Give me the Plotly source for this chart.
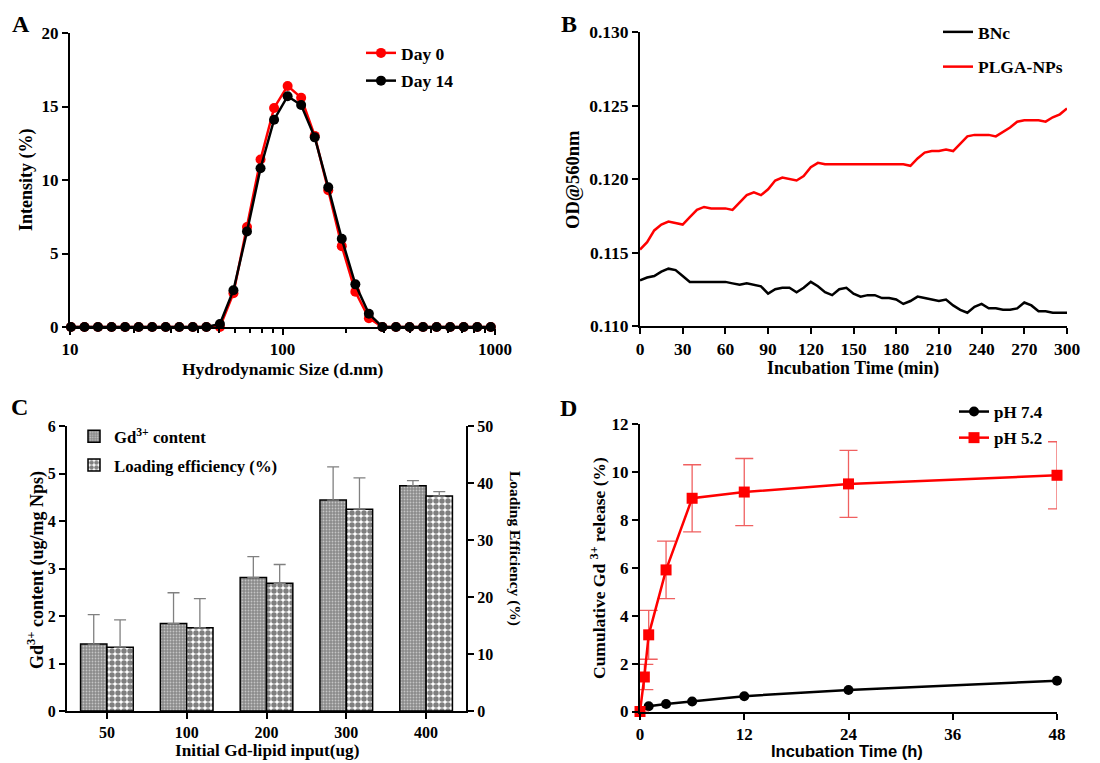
import plotly.graph_objects as go

SERIF = "Liberation Serif"
SANS = "Liberation Sans"
W, H = 1100, 763

def fx(x):
    return x / W

def fy(y):
    return 1 - y / H

# ---------------- Panel A data ----------------
size_nm = [10.10, 11.70, 13.54, 15.69, 18.17, 21.04, 24.36, 28.21, 32.67, 37.84,
           43.82, 50.75, 58.77, 68.06, 78.82, 91.28, 105.7, 122.4, 141.8, 164.2,
           190.1, 220.2, 255.0, 295.3, 342.0, 396.1, 458.7, 531.2, 615.1, 712.4,
           825.0, 955.4]
day0 = [0, 0, 0, 0, 0, 0, 0, 0, 0, 0,
        0, 0.0, 2.3, 6.8, 11.4, 14.9, 16.4, 15.6, 13.0, 9.3,
        5.5, 2.4, 0.6, 0, 0, 0, 0, 0, 0, 0,
        0, 0]
day14 = [0, 0, 0, 0, 0, 0, 0, 0, 0, 0,
         0, 0.2, 2.5, 6.5, 10.8, 14.1, 15.7, 15.1, 12.9, 9.5,
         6.0, 2.9, 0.9, 0, 0, 0, 0, 0, 0, 0,
         0, 0]

# ---------------- Panel B data ----------------
time_min = list(range(0, 301, 5))
plga_nps = [0.1152, 0.1157, 0.1165, 0.1169, 0.1171, 0.1170, 0.1169, 0.1174, 0.1179, 0.1181,
            0.1180, 0.1180, 0.1180, 0.1179, 0.1184, 0.1189, 0.1191, 0.1189, 0.1193, 0.1199,
            0.1201, 0.1200, 0.1199, 0.1202, 0.1208, 0.1211, 0.1210, 0.1210, 0.1210, 0.1210,
            0.1210, 0.1210, 0.1210, 0.1210, 0.1210, 0.1210, 0.1210, 0.1210, 0.1209, 0.1214,
            0.1218, 0.1219, 0.1219, 0.1220, 0.1219, 0.1224, 0.1229, 0.1230, 0.1230, 0.1230,
            0.1229, 0.1232, 0.1235, 0.1239, 0.1240, 0.1240, 0.1240, 0.1239, 0.1242, 0.1244,
            0.1248]
bnc = [0.1131, 0.1133, 0.1134, 0.1137, 0.1139, 0.1138, 0.1134, 0.1130, 0.1130, 0.1130,
       0.1130, 0.1130, 0.1130, 0.1129, 0.1128, 0.1129, 0.1128, 0.1127, 0.1122, 0.1125,
       0.1126, 0.1126, 0.1123, 0.1126, 0.1130, 0.1127, 0.1123, 0.1121, 0.1125, 0.1126,
       0.1122, 0.1120, 0.1121, 0.1121, 0.1119, 0.1119, 0.1118, 0.1115, 0.1117, 0.1120,
       0.1119, 0.1118, 0.1117, 0.1118, 0.1114, 0.1111, 0.1109, 0.1113, 0.1115, 0.1112,
       0.1112, 0.1111, 0.1111, 0.1112, 0.1116, 0.1114, 0.1110, 0.1110, 0.1109, 0.1109,
       0.1109]

# ---------------- Panel C data ----------------
gd_input = ["50", "100", "200", "300", "400"]
gd_content = [1.41, 1.84, 2.81, 4.44, 4.74]
gd_content_err = [0.62, 0.65, 0.44, 0.70, 0.11]
loading_eff = [11.2, 14.6, 22.4, 35.4, 37.7]
loading_eff_err = [4.8, 5.1, 3.3, 5.5, 0.8]

# ---------------- Panel D data ----------------
time_h_74 = [0, 1, 3, 6, 12, 24, 48]
release_74 = [0, 0.22, 0.31, 0.42, 0.64, 0.90, 1.28]
time_h_52 = [0, 0.5, 1, 3, 6, 12, 24, 48]
release_52 = [0, 1.44, 3.20, 5.91, 8.90, 9.16, 9.50, 9.86]
release_52_err = [0, 0.53, 1.02, 1.2, 1.4, 1.4, 1.4, 1.4]

fig = go.Figure()

# Panel A
fig.add_trace(go.Scatter(x=size_nm, y=day0, mode="lines+markers", name="Day 0",
                         line=dict(color="#ff0000", width=2.5),
                         marker=dict(symbol="circle", size=10, color="#ff0000"),
                         xaxis="x", yaxis="y", cliponaxis=False,
                         legend="legend", legendgroup="a0"))
fig.add_trace(go.Scatter(x=size_nm, y=day14, mode="lines+markers", name="Day 14",
                         line=dict(color="black", width=2.5),
                         marker=dict(symbol="circle", size=10, color="black"),
                         xaxis="x", yaxis="y", cliponaxis=False,
                         legend="legend", legendgroup="a1"))

# Panel B
fig.add_trace(go.Scatter(x=time_min, y=bnc, mode="lines", name="BNc",
                         line=dict(color="black", width=2.5),
                         xaxis="x2", yaxis="y2", legend="legend2", legendgroup="b0"))
fig.add_trace(go.Scatter(x=time_min, y=plga_nps, mode="lines", name="PLGA-NPs",
                         line=dict(color="#ff0000", width=2.5),
                         xaxis="x2", yaxis="y2", legend="legend2", legendgroup="b1"))

# Panel C
fig.add_trace(go.Bar(x=gd_input, y=gd_content, name="Gd<sup>3+</sup> content",
                     width=0.33, offset=-0.33,
                     marker=dict(color="#8a8a8a",
                                 line=dict(color="black", width=1.5),
                                 pattern=dict(shape=".", fgcolor="white", bgcolor="#8a8a8a",
                                              size=3, solidity=0.3, fillmode="overlay")),
                     error_y=dict(type="data", array=gd_content_err,
                                  arrayminus=[0] * len(gd_content_err), symmetric=False,
                                  color="#808080", thickness=1.3, width=6),
                     xaxis="x3", yaxis="y3", legend="legend3", legendgroup="c0"))
fig.add_trace(go.Bar(x=gd_input, y=loading_eff, name="Loading efficiency (%)",
                     width=0.33, offset=0.0,
                     marker=dict(color="white",
                                 line=dict(color="black", width=1.5),
                                 pattern=dict(shape=".", fgcolor="black", bgcolor="white",
                                              size=6, solidity=0.65, fillmode="overlay")),
                     error_y=dict(type="data", array=loading_eff_err,
                                  arrayminus=[0] * len(loading_eff_err), symmetric=False,
                                  color="#808080", thickness=1.3, width=6),
                     xaxis="x3", yaxis="y4", legend="legend3", legendgroup="c1"))

# Panel D
fig.add_trace(go.Scatter(x=time_h_74, y=release_74, mode="lines+markers", name="pH 7.4",
                         line=dict(color="black", width=2.5),
                         marker=dict(symbol="circle", size=10, color="black"),
                         xaxis="x4", yaxis="y5", cliponaxis=False,
                         legend="legend4", legendgroup="d0"))
fig.add_trace(go.Scatter(x=time_h_52, y=release_52, mode="lines+markers", name="pH 5.2",
                         line=dict(color="#ff0000", width=2.5),
                         marker=dict(symbol="square", size=11, color="#ff0000"),
                         error_y=dict(type="data", array=release_52_err,
                                      color="#f06060", thickness=1.3, width=9),
                         xaxis="x4", yaxis="y5", cliponaxis=False,
                         legend="legend4", legendgroup="d1"))


def tf(size):
    return dict(family=SERIF, size=size, color="black", weight="bold")


base_ax = dict(showline=True, linecolor="black", linewidth=2, ticks="outside",
               ticklen=6, tickwidth=2, tickcolor="black", showgrid=False,
               zeroline=False, fixedrange=True, automargin=False)

# domains
A_x = [fx(70), fx(495)]
A_y = [fy(327), fy(33)]
B_x = [fx(640), fx(1067)]
B_y = [fy(326), fy(32)]
C_x = [fx(67), fx(466)]
C_y = [fy(711), fy(426)]
D_x = [fx(640), fx(1057)]
D_y = [fy(711.5), fy(424)]

fig.update_layout(
    width=W, height=H,
    margin=dict(l=0, r=0, t=0, b=0, pad=0, autoexpand=False),
    paper_bgcolor="white", plot_bgcolor="white",
    font=dict(family=SERIF, size=16, color="black"),
    barmode="overlay",
    xaxis=dict(base_ax, type="log", domain=A_x, anchor="y", range=[1, 3],
               tickvals=[10, 100, 1000], ticktext=["10", "100", "1000"], tickfont=tf(17),
               minor=dict(ticks="outside", ticklen=4, tickwidth=1.5, tickcolor="black",
                          dtick="D1", showgrid=False)),
    yaxis=dict(base_ax, domain=A_y, anchor="x", range=[0, 20], tickvals=[0, 5, 10, 15, 20],
               tickfont=tf(17)),
    xaxis2=dict(base_ax, domain=B_x, anchor="y2", range=[0, 300],
                tickvals=list(range(0, 301, 30)), tickfont=tf(17.5)),
    yaxis2=dict(base_ax, domain=B_y, anchor="x2", range=[0.110, 0.130],
                tickvals=[0.110, 0.115, 0.120, 0.125, 0.130], tickformat=".3f",
                tickfont=tf(17.5)),
    xaxis3=dict(base_ax, domain=C_x, anchor="y3", type="category",
                categoryorder="array", categoryarray=gd_input, range=[-0.5, 4.5],
                tickfont=tf(16)),
    yaxis3=dict(base_ax, domain=C_y, anchor="x3", range=[0, 6], tickvals=list(range(0, 7)),
                tickfont=tf(16)),
    yaxis4=dict(base_ax, domain=C_y, anchor="x3", overlaying="y3", side="right",
                range=[0, 50], tickvals=list(range(0, 51, 10)), tickfont=tf(16)),
    xaxis4=dict(base_ax, domain=D_x, anchor="y5", range=[0, 48],
                tickvals=[0, 12, 24, 36, 48], tickfont=tf(17)),
    yaxis5=dict(base_ax, domain=D_y, anchor="x4", range=[0, 12],
                tickvals=list(range(0, 13, 2)), tickfont=tf(17)),
    legend=dict(x=fx(361), y=fy(35), xanchor="left", yanchor="top", font=tf(17.5),
                bgcolor="rgba(0,0,0,0)", tracegroupgap=2, itemwidth=30),
    legend2=dict(x=fx(938), y=fy(14), xanchor="left", yanchor="top", font=tf(17.5),
                 bgcolor="rgba(0,0,0,0)", tracegroupgap=9, itemwidth=30),
    legend3=dict(x=fx(74), y=fy(419), xanchor="left", yanchor="top", font=tf(16.7),
                 bgcolor="rgba(0,0,0,0)", tracegroupgap=4, itemwidth=30),
    legend4=dict(x=fx(954), y=fy(394), xanchor="left", yanchor="top", font=tf(17),
                 bgcolor="rgba(0,0,0,0)", tracegroupgap=1, itemwidth=30),
    showlegend=True,
)

sans_font = dict(family=SANS, size=16.5, color="black", weight="bold")
letter_font = tf(24)

annots = [
    # panel letters
    ("A", 21, 24, 0, letter_font),
    ("B", 569, 24, 0, letter_font),
    ("C", 19, 407, 0, letter_font),
    ("D", 569, 408, 0, letter_font),
    # axis titles
    ("Hydrodynamic Size (d.nm)", 283, 369, 0, tf(17.5)),
    ("Intensity (%)", 27, 180, -90, tf(18)),
    ("Incubation Time (min)", 853, 368, 0, tf(17.8)),
    ("OD@560nm", 573, 180, -90, tf(18.5)),
    ("Initial Gd-lipid input(ug)", 267, 750, 0, tf(17.2)),
    ("Gd<sup>3+</sup> content (ug/mg Nps)", 36, 570, -90, tf(18)),
    ("Loading Efficiency (%)", 515, 548, 90, tf(15.5)),
    ("Incubation Time (h)", 847, 751, 0, sans_font),
    ("Cumulative Gd <sup>3+</sup> release (%)", 598, 568, -90, tf(17.5)),
]
for text, x, y, ang, fnt in annots:
    fig.add_annotation(text=text, x=fx(x), y=fy(y), xref="paper", yref="paper",
                       xanchor="center", yanchor="middle", showarrow=False,
                       textangle=ang, font=fnt)

fig.write_html("out.html",
               config={"displayModeBar": False},
               post_script="document.body.style.margin='0';"
                           "document.body.style.overflow='hidden';")
